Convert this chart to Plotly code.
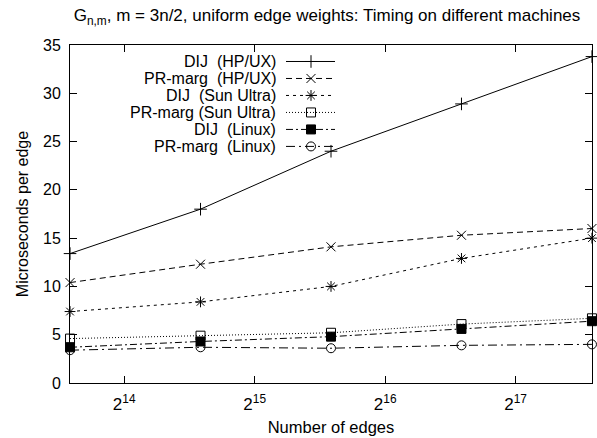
import math
import plotly.graph_objects as go

# Data
edges = [12288, 24576, 49152, 98304, 196608]
dij_hp = [13.4, 18.0, 24.0, 28.9, 33.8]
pr_hp = [10.4, 12.3, 14.1, 15.3, 16.0]
dij_sun = [7.4, 8.4, 10.0, 12.9, 15.0]
pr_sun = [4.6, 4.9, 5.2, 6.1, 6.7]
dij_linux = [3.7, 4.3, 4.8, 5.6, 6.4]
pr_linux = [3.4, 3.7, 3.6, 3.9, 4.0]

names = ["DIJ\u00a0\u00a0(HP/UX)", "PR-marg\u00a0\u00a0(HP/UX)", "DIJ\u00a0\u00a0(Sun Ultra)",
         "PR-marg (Sun Ultra)", "DIJ\u00a0\u00a0(Linux)", "PR-marg\u00a0\u00a0(Linux)"]
series = [dij_hp, pr_hp, dij_sun, pr_sun, dij_linux, pr_linux]
dashes = ["solid", "6px,4px", "3px,4px", "1px,2px", "7px,3px,2px,3px", "9px,4px,2px,4px"]
symbols = ["cross-thin-open", "x-thin-open", "asterisk-open", "square-open", "square", "circle-open"]
sizes = [9, 9, 9, 9, 9, 9]

xticks = [16384, 32768, 65536, 131072]
xticktext = ["2<sup>14</sup>", "2<sup>15</sup>", "2<sup>16</sup>", "2<sup>17</sup>"]

FONT = "Liberation Sans, Arial, Helvetica, sans-serif"

fig = go.Figure()
for nm, ys, d, s, sz in zip(names, series, dashes, symbols, sizes):
    fig.add_trace(go.Scatter(
        x=edges, y=ys, mode="lines+markers", name=nm, cliponaxis=False,
        line=dict(color="black", width=1, dash=d),
        marker=dict(symbol=s, size=sz, color="black", line=dict(color="black", width=1)),
        showlegend=False))

# Manual legend (text on the left, sample on the right, gnuplot-style)
L, R, T, B = 70, 592, 45, 383.3
W, H = R - L, B - T
for i, (nm, d, s, sz) in enumerate(zip(names, dashes, symbols, sizes)):
    py = 61.5 + 17 * i
    yf = (B - py) / H
    x0, x1, xm = (286 - L) / W, (335 - L) / W, (311 - L) / W
    fig.add_trace(go.Scatter(
        x=[x0, x1], y=[yf, yf], xaxis="x2", yaxis="y2", mode="lines",
        line=dict(color="black", width=1, dash=d), showlegend=False, hoverinfo="skip"))
    fig.add_trace(go.Scatter(
        x=[xm], y=[yf], xaxis="x2", yaxis="y2", mode="markers", cliponaxis=False,
        marker=dict(symbol=s, size=sz, color="black", line=dict(color="black", width=1)),
        showlegend=False, hoverinfo="skip"))
    fig.add_annotation(x=(278 - L) / W, y=yf, xref="x2 domain", yref="y2", text=nm,
                       showarrow=False, xanchor="right", yanchor="middle",
                       font=dict(size=16, color="black", family=FONT))

eps = 1e-4
fig.update_layout(
    width=597, height=438,
    margin=dict(l=L, r=597 - R, t=T, b=438 - B),
    paper_bgcolor="white", plot_bgcolor="white",
    font=dict(family=FONT, size=16, color="black"),
    title=dict(text="G<sub>n,m</sub>, m = 3n/2, uniform edge weights: Timing on different machines",
               x=327 / 597, xanchor="center", y=1 - 15 / 438, yanchor="middle",
               font=dict(size=17, family=FONT)),
    xaxis=dict(type="log", range=[math.log10(edges[0]) - eps, math.log10(edges[-1]) + eps],
               tickvals=xticks, ticktext=xticktext, tickfont=dict(size=17),
               ticks="inside", ticklen=7, tickcolor="black", showline=True, linecolor="black",
               linewidth=1, mirror="ticks", showgrid=False, zeroline=False,
               ticklabelstandoff=6,
               title=dict(text="Number of edges", standoff=8, font=dict(size=16.5))),
    yaxis=dict(range=[0, 35], dtick=5, ticks="inside", ticklen=7, tickcolor="black",
               showline=True, linecolor="black", linewidth=1, mirror="ticks",
               showgrid=False, zeroline=False, ticklabelstandoff=5, tickfont=dict(size=16),
               title=dict(text="Microseconds per edge", standoff=10, font=dict(size=16))),
    xaxis2=dict(overlaying="x", range=[0, 1], visible=False, fixedrange=True),
    yaxis2=dict(overlaying="y", range=[0, 1], visible=False, fixedrange=True),
)

fig.write_html("out.html")
